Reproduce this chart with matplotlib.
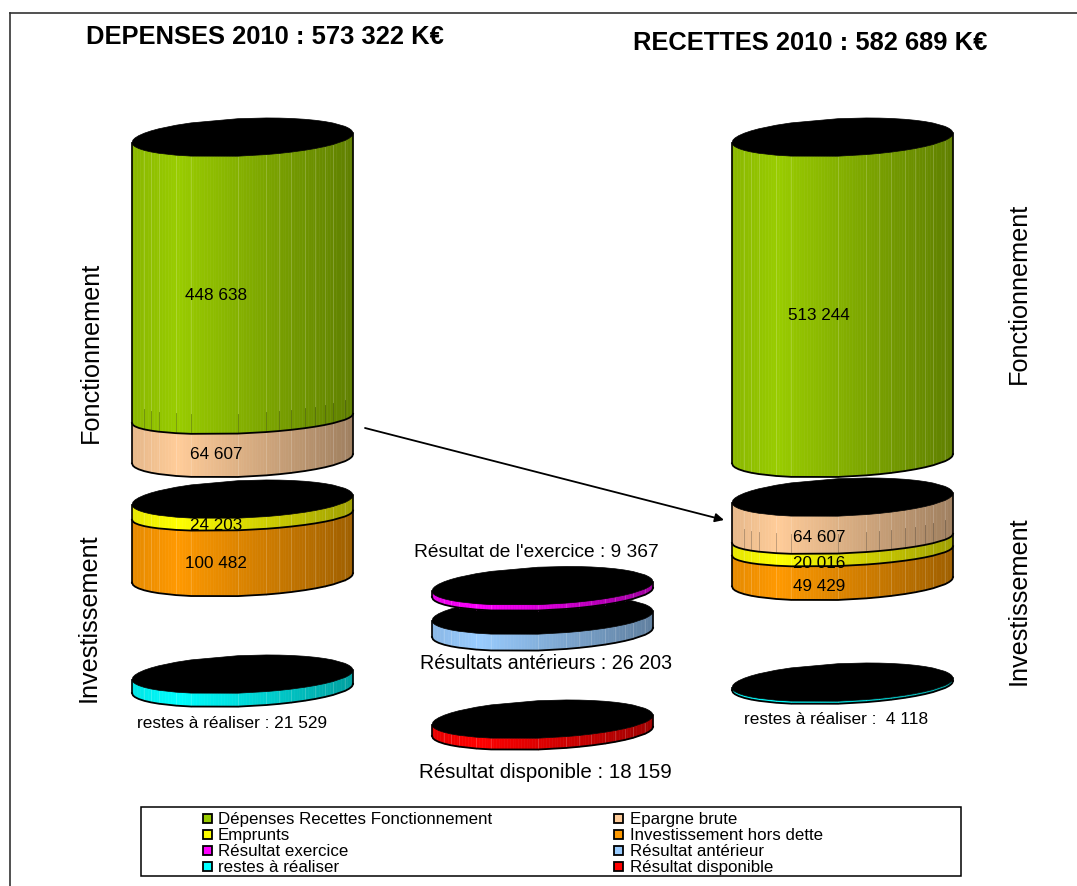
#!/usr/bin/env python3
"""Budget 2010 : depenses / recettes en cylindres empiles (style Excel 3D)."""

import matplotlib

matplotlib.use("Agg")
import matplotlib.pyplot as plt  # noqa: E402
import numpy as np  # noqa: E402
from matplotlib.patches import Rectangle  # noqa: E402

plt.rcParams["font.family"] = ["Liberation Sans", "DejaVu Sans"]

# valeurs en KEUR, de haut en bas dans chaque pile
dep_fonct = [448638, 64607]
dep_invest = [24203, 100482]
dep_restes = [21529]
rec_fonct = [513244]
rec_invest = [64607, 20016, 49429]
rec_restes = [4118]
res_anterieur = [26203]
res_exercice = [9367]
res_disponible = [18159]

GREEN = "#99cc00"
PEACH = "#ffcc99"
YELLOW = "#ffff00"
ORANGE = "#ff9900"
MAGENTA = "#ff00ff"
BLUE = "#99ccff"
CYAN = "#00ffff"
RED = "#ff0000"

legend_labels = [
    ("Dépenses Recettes Fonctionnement", GREEN),
    ("Emprunts", YELLOW),
    ("Résultat exercice", MAGENTA),
    ("restes à réaliser", CYAN),
    ("Epargne brute", PEACH),
    ("Investissement hors dette", ORANGE),
    ("Résultat antérieur", BLUE),
    ("Résultat disponible", RED),
]

HALF_W = 110.5
SCALE = 0.000625   # px par KEUR
TILT = -0.042      # le disque penche vers la droite
# position des facettes, lue sur le cylindre de gauche (0 = bord gauche)
FACETS = np.array([0, 37, 57, 80, 132, 177, 317, 402, 440, 477,
                   517, 549, 577, 602, 637, 662]) / 662
# points du contour : les facettes plus quelques points pour arrondir les bouts
OUTLINE = np.unique(np.r_[FACETS, np.array([3, 9, 20, 640, 650, 657, 660]) / 662])


def shade(color, f):
    rgb = np.array(matplotlib.colors.to_rgb(color))
    k = np.interp(f, [0, 0.2, 1], [0.9, 1.0, 0.62])
    return rgb * k


def rim(cx, yc, b, sign=1, fr=OUTLINE):
    xs = cx - HALF_W + 2 * HALF_W * fr
    u = (xs - cx) / HALF_W
    ys = yc + TILT * (xs - cx) + sign * b * np.sqrt(np.clip(1 - u ** 2, 0, 1))
    return xs, ys


def band(ax, cx, y0, y1, b0, b1, color, z, shadow=False):
    x0, top = rim(cx, y0, b0)
    _, bot = rim(cx, y1, b1)
    fine = np.linspace(0, 1, 80)
    xf = cx - HALF_W + 2 * HALF_W * fine
    topf = np.interp(xf, x0, top)
    botf = np.interp(xf, x0, bot)
    for i in range(len(fine) - 1):
        c = shade(color, fine[i])
        ax.fill([xf[i], xf[i + 1], xf[i + 1], xf[i]],
                [topf[i], topf[i + 1], botf[i + 1], botf[i]],
                facecolor=c, edgecolor=c, lw=0.4, zorder=z)
    # fines aretes claires entre facettes, sombres en bas si une tranche suit
    xe, te = rim(cx, y0, b0, fr=FACETS)
    _, be = rim(cx, y1, b1, fr=FACETS)
    for j in range(1, len(xe) - 1):
        c = shade(color, FACETS[j]) * 0.55 + 0.45
        ax.plot([xe[j], xe[j]], [te[j], be[j]], color=c, lw=0.5,
                alpha=0.55, zorder=z)
        if shadow:
            c = shade(color, FACETS[j]) * 0.65
            ax.plot([xe[j], xe[j]], [be[j] - 20, be[j]], color=c, lw=0.6,
                    alpha=0.8, zorder=z)


def cylinder(ax, cx, y_top, values, colors, b=18, z=2):
    heights = np.array(values) * SCALE
    edges = y_top + np.concatenate([[0], np.cumsum(heights)])
    n = len(values)
    for i in range(n):
        b0 = b if i == 0 else 15
        b1 = b if i == n - 1 else 15
        band(ax, cx, edges[i], edges[i + 1], b0, b1, colors[i], z,
             shadow=i < n - 1 and heights[i] > 30)
        xs, ys = rim(cx, edges[i + 1], b1)
        ax.plot(xs, ys, color="k", lw=1.3, zorder=z + 1)
    # cotes verticaux
    for s in (-1, 1):
        x = cx + s * HALF_W
        ax.plot([x, x], [edges[0] + TILT * s * HALF_W, edges[-1] + TILT * s * HALF_W],
                color="k", lw=1.2, zorder=z + 1)
    # dessus noir
    xf, yf = rim(cx, edges[0], b)
    xb, yb = rim(cx, edges[0], b + 1.5, sign=-1)
    ax.fill(np.r_[xf, xb[::-1]], np.r_[yf, yb[::-1]], facecolor="k",
            edgecolor="k", lw=0.5, zorder=z + 2)


def main():
    fig = plt.figure(figsize=(10.77, 8.87), dpi=100)
    ax = fig.add_axes([0, 0, 1, 1])
    ax.set_xlim(0, 1077)
    ax.set_ylim(887, 0)
    ax.axis("off")

    # cadre (coupe a droite et en bas)
    ax.plot([9.5, 9.5], [887, 14], color="#333333", lw=1.2)
    ax.plot([9.5, 1077], [14, 14], color="#333333", lw=1.2)

    title = dict(fontsize=18.4, fontweight="bold", va="center", ha="left")
    ax.text(86, 37, "DEPENSES 2010 : 573 322 K€", **title)
    ax.text(633, 43, "RECETTES 2010 : 582 689 K€", **title)

    cylinder(ax, 242.5, 139, dep_fonct, [GREEN, PEACH])
    cylinder(ax, 242.5, 501, dep_invest, [YELLOW, ORANGE])
    cylinder(ax, 242.5, 676, dep_restes, [CYAN])
    cylinder(ax, 842.5, 139, rec_fonct, [GREEN])
    cylinder(ax, 842.5, 499, rec_invest, [PEACH, YELLOW, ORANGE])
    cylinder(ax, 842.5, 684, rec_restes, [CYAN])
    cylinder(ax, 542.5, 617, res_anterieur, [BLUE], z=2)
    cylinder(ax, 542.5, 587.5, res_exercice, [MAGENTA], z=6)
    cylinder(ax, 542.5, 721, res_disponible, [RED])

    val = dict(fontsize=12.3, ha="center", va="center", zorder=12)
    for x, y, s in [(216, 295.5, "448 638"), (216, 454.5, "64 607"),
                    (216, 526, "24 203"), (216, 563.5, "100 482"),
                    (819, 315.5, "513 244"), (819, 537.5, "64 607"),
                    (819, 563.5, "20 016"), (819, 586.5, "49 429")]:
        ax.text(x, y, s, **val)

    note = dict(fontsize=12.45, ha="center", va="center", zorder=12)
    ax.text(232.5, 723.5, "restes à réaliser : 21 529", **note)
    ax.text(836, 719.5, "restes à réaliser :  4 118", **note)
    res = dict(ha="center", va="center", zorder=12)
    ax.text(536.5, 553, "Résultat de l'exercice : 9 367", fontsize=13.75, **res)
    ax.text(546, 663.5, "Résultats antérieurs : 26 203", fontsize=14.1, **res)
    ax.text(545, 772.5, "Résultat disponible : 18 159", fontsize=14.8, **res)

    side = dict(fontsize=18.2, rotation=90, ha="center", va="center")
    ax.text(91, 352, "Fonctionnement", **side)
    ax.text(89, 618, "Investissement", **side)
    ax.text(1019, 293.5, "Fonctionnement", **side)
    ax.text(1019, 601, "Investissement", **side)

    ax.annotate("", xy=(724, 521), xytext=(365, 429),
                arrowprops=dict(arrowstyle="-|>", color="k", lw=1.3,
                                mutation_scale=13, shrinkA=0, shrinkB=0),
                zorder=11)

    # legende
    ax.add_patch(Rectangle((141, 808), 820, 69, facecolor="white",
                           edgecolor="k", lw=1.1, zorder=5))
    for i, (label, color) in enumerate(legend_labels):
        col, row = i // 4, i % 4
        x = 207 + col * 411
        y = 820 + row * 16
        ax.add_patch(Rectangle((x - 4.5, y - 4.5), 9, 9, facecolor=color,
                               edgecolor="k", lw=1.3, zorder=6))
        ax.text(x + 11 + col, y, label, fontsize=12.2, va="center", ha="left", zorder=6)

    fig.savefig("out.png", dpi=100)
    plt.close(fig)


if __name__ == "__main__":
    main()
